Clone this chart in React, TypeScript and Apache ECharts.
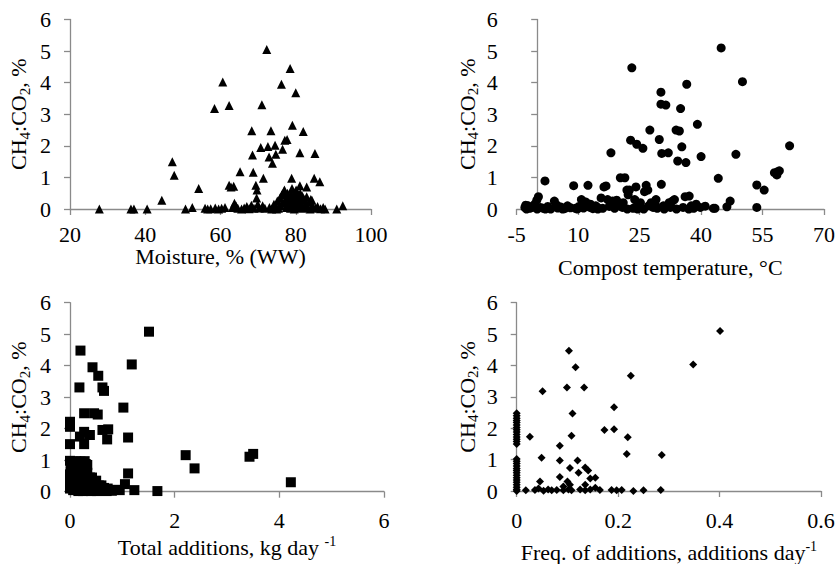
import React, { useEffect, useRef } from "react";
import * as echarts from "echarts";

// Panel 1: Moisture, % (WW) vs CH4:CO2, %
const moisture: [number, number][] = [
  [27.8, 0], [36.2, 0], [37.0, 0], [40.5, 0], [44.4, 0.28], [47.2, 1.5], [47.7, 1.07], [50.7, 0], [52.5, 0.05], [54.2, 0.65],
  [55.9, 0.02], [56.6, 0], [57.4, 0.01], [58.4, 3.18], [58.6, 0.03], [59.5, 0], [60.3, 0.02], [60.6, 4.02], [61.2, 0.05],
  [62.3, 0.75], [62.8, 0.7], [63.5, 0.72], [63.7, 0.18], [63.2, 0.05], [62.3, 3.28], [64.1, 0.1], [64.6, 0.02], [65.2, 1.18],
  [65.6, 0], [66.3, 0.03], [67.0, 0.08], [67.6, 0.01], [68.3, 2.48], [68.5, 1.71], [68.7, 1.16], [68.2, 0.12], [68.9, 0.02],
  [69.4, 0.75], [69.7, 0.6], [69.6, 0.35], [69.9, 0.15], [70.3, 0.03], [70.7, 1.95], [71.0, 3.3], [71.4, 0.97], [71.2, 0.1],
  [71.8, 0.02], [72.3, 5.05], [72.6, 1.98], [72.9, 1.65], [73.4, 2.48], [73.8, 1.45], [73.0, 0.05], [73.6, 0], [74.5, 2.02],
  [74.7, 1.73], [74.2, 0.15], [74.6, 0.05], [75.1, 0.25], [75.4, 0.02], [75.8, 0.35], [76.2, 3.95], [76.5, 1.89], [76.0, 0.1],
  [76.3, 0.45], [76.8, 0.55], [77.1, 2.18], [77.7, 2.2], [77.0, 0.6], [77.3, 0.3], [77.5, 0.05], [77.9, 0.15], [78.5, 4.45],
  [78.2, 0.4], [78.4, 0.22], [78.6, 0.02], [78.9, 0.97], [79.0, 0.65], [79.1, 2.65], [79.3, 0.35], [79.4, 0.1], [79.7, 0.5],
  [79.9, 0.25], [80.0, 3.68], [80.2, 0.05], [80.4, 0.4], [80.6, 0.15], [80.8, 0.3], [81.1, 1.78], [81.1, 0.74], [81.2, 0.5],
  [81.4, 0.2], [81.6, 0.02], [82.0, 2.45], [82.2, 0.3], [82.5, 0.1], [82.9, 0.7], [82.9, 0.39], [83.1, 0.05], [83.5, 0.22],
  [84.0, 0.3], [84.3, 0.28], [84.5, 0.1], [84.9, 0.97], [85.1, 1.76], [85.3, 0.02], [85.8, 0.08], [86.4, 0.86], [86.6, 0.01],
  [87.3, 0.05], [87.8, 0], [90.9, 0], [92.5, 0.1], [74.9, 0.0], [75.6, 0.1], [76.6, 0.2], [77.8, 0.5], [78.0, 0.3],
  [78.8, 0.45], [79.6, 0.0], [80.1, 0.6], [81.8, 0.4], [83.8, 0.0], [80.9, 0.05], [79.2, 0.2], [77.6, 0.12],
];

// Panel 2: Compost temperature, °C vs CH4:CO2, %
const temperature: [number, number][] = [
  [-3.0, 0.05], [-2.6, 0], [-2.2, 0.1], [-1.8, 0.02], [-1.2, 0.05], [-0.6, 0.15], [-0.1, 0.28], [0.3, 0.39], [0.8, 0.05],
  [1.5, 0.02], [1.9, 0.89], [2.6, 0.08], [3.3, 0], [4.2, 0.25], [5.0, 0.03], [5.8, 0.06], [6.7, 0.01], [7.4, 0.1], [8.1, 0.04],
  [8.9, 0.74], [9.3, 0.02], [10.2, 0.08], [10.8, 0.3], [11.3, 0.03], [11.9, 0.22], [12.4, 0.75], [12.9, 0.05], [13.6, 0.01],
  [14.3, 0.1], [15.0, 0.03], [15.6, 0.35], [16.3, 0.7], [16.8, 0.73], [17.2, 0.3], [17.6, 0.08], [18.0, 1.78], [18.4, 0.25],
  [18.9, 0.02], [19.4, 0.28], [20.0, 0.1], [20.3, 0.99], [20.8, 0.05], [21.4, 0.99], [21.9, 0.6], [22.2, 0.45], [22.5, 0.6],
  [22.8, 2.18], [23.1, 4.47], [23.4, 0.02], [23.8, 0.3], [24.1, 0.7], [24.3, 2.05], [24.7, 0.1], [25.2, 0.2], [25.8, 1.92],
  [26.2, 0.55], [26.6, 0.75], [27.0, 0.6], [27.5, 2.5], [27.8, 0.2], [28.3, 0.05], [28.8, 0.15], [29.3, 0.02], [29.8, 2.2],
  [30.2, 3.7], [30.2, 3.32], [30.3, 0.78], [30.4, 1.76], [30.8, 0.1], [31.4, 3.29], [32.0, 1.78], [32.5, 0.05], [33.0, 0.25],
  [33.5, 0.3], [33.9, 2.5], [34.3, 1.52], [34.7, 2.47], [35.0, 3.18], [35.3, 1.97], [35.6, 0.05], [36.1, 0.39], [36.3, 1.47],
  [36.5, 3.95], [37.1, 0.41], [37.6, 0.1], [38.2, 0.02], [39.1, 2.68], [39.8, 0.05], [40.0, 1.66], [41.0, 0.09], [43.0, 0.02],
  [43.4, 0.02], [44.2, 0.97], [44.9, 5.1], [46.3, 0.07], [47.1, 0.25], [48.5, 1.73], [50.1, 4.03], [53.6, 0.76], [53.6, 0.05],
  [55.4, 0.6], [57.9, 1.15], [58.5, 1.08], [58.7, 1.18], [59.1, 1.21], [61.6, 2.0], [-2.8, 0.12], [0.0, 0.0], [2.0, 0.0],
  [4.8, 0.12], [6.2, 0.0], [9.8, 0.0], [13.0, 0.15], [14.8, 0.0], [16.0, 0.02], [19.0, 0.1], [21.0, 0.2], [22.0, 0.0],
  [24.5, 0.0], [26.0, 0.0], [27.2, 0.1], [29.0, 0.3], [31.0, 0.0], [32.2, 0.2], [34.0, 0.0], [37.0, 0.0], [38.8, 0.15],
];

// Panel 3: Total additions, kg day-1 vs CH4:CO2, %
const additions: [number, number][] = [
  [0.2, 4.48], [0.18, 3.31], [0, 2.22], [0, 2.06], [0, 1.51], [0.27, 2.49], [0.27, 1.51], [0.19, 1.75], [0.27, 1.9],
  [0.38, 1.8], [0.43, 3.95], [0.46, 2.49], [0.53, 2.45], [0.54, 3.68], [0.62, 3.31], [0.65, 3.2], [0.62, 1.96], [0.73, 1.98],
  [0.71, 1.66], [1.02, 2.67], [1.11, 1.72], [1.11, 0.58], [1.05, 0.24], [1.18, 4.04], [1.23, 0.05], [1.51, 5.08], [1.67, 0.02],
  [2.21, 1.16], [2.38, 0.74], [3.43, 1.11], [3.5, 1.2], [4.22, 0.3], [0.89, 0.06], [0.8, 0.03], [0.95, 0.05],
  [0, 0.98], [0.05, 0.95], [0.12, 0.97], [0.2, 0.96], [0.28, 0.97], [0.02, 0.75], [0.1, 0.8], [0.17, 0.7], [0.25, 0.78],
  [0.3, 0.72], [0, 0.55], [0.08, 0.5], [0.15, 0.6], [0.22, 0.45], [0.3, 0.5], [0.04, 0.3], [0.12, 0.35], [0.19, 0.25],
  [0.27, 0.3], [0.34, 0.4], [0, 0.1], [0.06, 0.05], [0.1, 0.15], [0.16, 0.02], [0.23, 0.1], [0.3, 0.05], [0.38, 0.2],
  [0.42, 0.45], [0.45, 0.1], [0.5, 0.35], [0.52, 0.02], [0.55, 0.2], [0.6, 0.08], [0.65, 0.12], [0.7, 0.02], [0.75, 0.05],
  [0, 0.3], [0.08, 0.25], [0.36, 0.05], [0.44, 0.28], [0.58, 0.15],
  [0.04, 0.88], [0.14, 0.86], [0.22, 0.9], [0.3, 0.88], [0.06, 0.65], [0.13, 0.68], [0.21, 0.62], [0.29, 0.62],
  [0.03, 0.42], [0.11, 0.45], [0.18, 0.4], [0.26, 0.42], [0.02, 0.18], [0.09, 0.22], [0.14, 0.12], [0.21, 0.2],
  [0.28, 0.15], [0.33, 0.28], [0.4, 0.35], [0.47, 0.2], [0.62, 0.03], [0.4, 0.02], [0.49, 0.08], [0.68, 0.08],
  [0.01, 0.65], [0.07, 0.35], [0.16, 0.5], [0.24, 0.55], [0.33, 0.6], [0.35, 0.15], [0.12, 0.55], [0.18, 0.85],
  [0.26, 0.68], [0.09, 0.1], [0.19, 0.08], [0.25, 0.02], [0.32, 0.38], [0.38, 0.45], [0.43, 0.15], [0.48, 0.3],
  [0.54, 0.1], [0.6, 0.2], [0.66, 0.04], [0.72, 0.1], [0.07, 0.78], [0.24, 0.3], [0.16, 0.32], [0.33, 0.85],
];

// Panel 4: Freq. of additions, additions day-1 vs CH4:CO2, %
const frequency: [number, number][] = [
  [0, 2.48], [0, 2.4], [0, 2.32], [0, 2.25], [0, 2.18], [0, 2.1], [0, 2.02], [0, 1.95], [0, 1.88], [0, 1.8], [0, 1.72],
  [0, 1.65], [0, 1.58], [0, 1.5], [0, 1.02], [0, 0.95], [0, 0.88], [0, 0.8], [0, 0.72], [0, 0.65], [0, 0.58], [0, 0.5],
  [0, 0.42], [0, 0.35], [0, 0.28], [0, 0.2], [0, 0.12], [0, 0.05], [0, 0],
  [0.018, 0.02], [0.026, 1.73], [0.036, 0.03], [0.043, 0.08], [0.046, 0.3], [0.049, 1.06], [0.051, 3.18], [0.053, 0.01],
  [0.062, 0.05], [0.069, 0.02], [0.079, 0.03], [0.085, 1.44], [0.085, 0.97], [0.085, 0.45], [0.092, 0.14], [0.092, 0.02],
  [0.099, 3.3], [0.1, 0.3], [0.102, 0.05], [0.103, 4.47], [0.105, 0.73], [0.105, 0.2], [0.108, 1.76], [0.108, 0.02],
  [0.11, 2.47], [0.116, 3.94], [0.12, 0.97], [0.122, 0.58], [0.125, 0.05], [0.133, 3.3], [0.135, 0.75], [0.135, 0.2],
  [0.135, 0.02], [0.141, 0.65], [0.145, 0.4], [0.145, 0.05], [0.155, 0.42], [0.155, 0.1], [0.164, 0.03], [0.173, 1.94],
  [0.187, 0.03], [0.192, 1.97], [0.192, 2.67], [0.197, 0.02], [0.207, 0.03], [0.217, 1.18], [0.219, 1.71], [0.225, 3.67],
  [0.23, 0], [0.25, 0.02], [0.286, 1.15], [0.284, 0.03], [0.348, 4.03], [0.401, 5.1],
];

const yName = "CH{s|4}:CO{s|2}, %";
const xNames = ["Moisture, % (WW)", "Compost temperature, °C", "Total additions, kg day {p|-1}", "Freq. of additions, additions day{p|-1}"];
const xRanges = [
  { min: 20, max: 100, interval: 20 },
  { min: -5, max: 70, interval: 15 },
  { min: 0, max: 6, interval: 2 },
  { min: 0, max: 0.6, interval: 0.2 },
];

export default function App() {
  const ref = useRef<HTMLDivElement>(null);
  useEffect(() => {
    const chart = echarts.init(ref.current!, null, { renderer: "svg" });
    const font = "Liberation Serif";
    const axisColor = "#8a8a8a";
    const fs = 22;
    const grids = [
      { left: 70, top: 19.5, width: 301, height: 189.5 },
      { left: 516.7, top: 19.5, width: 307.3, height: 189.5 },
      { left: 70, top: 302.7, width: 314, height: 189 },
      { left: 516.7, top: 302.7, width: 304.3, height: 188.3 },
    ];
    const xGaps = [32, 47, 43, 48];
    const xMargins = [14, 14, 18, 18];
    const yGaps = [38, 36, 38, 36];
    const datasets = [moisture, temperature, additions, frequency];
    const symbols = ["triangle", "circle", "rect", "diamond"];
    const sizes = [9, 9, 10, 8];
    const axisCommon = {
      axisLine: { show: true, lineStyle: { color: axisColor, width: 1.3 } },
      axisTick: { show: true, inside: false, length: 6, lineStyle: { color: axisColor, width: 1.3 } },
      splitLine: { show: false },
    };
    const option: any = {
      animation: false,
      backgroundColor: "#fff",
      textStyle: { fontFamily: font, color: "#000" },
      grid: grids.map((g) => ({ ...g, containLabel: false })),
      xAxis: xRanges.map((r, i) => ({
        type: "value",
        gridIndex: i,
        ...r,
        ...axisCommon,
        axisLabel: { color: "#000", fontFamily: font, fontSize: fs, margin: xMargins[i], showMinLabel: true, showMaxLabel: true },
        name: xNames[i],
        nameLocation: "middle",
        nameGap: xGaps[i],
        nameTextStyle: {
          color: "#000",
          fontFamily: font,
          fontSize: fs,
          rich: { p: { fontFamily: font, fontSize: 14, color: "#000", padding: [0, 0, 12, 0] } },
        },
      })),
      yAxis: grids.map((_, i) => ({
        type: "value",
        gridIndex: i,
        min: 0,
        max: 6,
        interval: 1,
        ...axisCommon,
        axisLabel: { color: "#000", fontFamily: font, fontSize: fs, margin: 19, showMinLabel: true, showMaxLabel: true },
        name: yName,
        nameLocation: "middle",
        nameRotate: 90,
        nameGap: yGaps[i],
        nameTextStyle: {
          color: "#000",
          fontFamily: font,
          fontSize: fs,
          rich: { s: { fontFamily: font, fontSize: 15, color: "#000", padding: [12, 0, 0, 0] } },
        },
      })),
      series: datasets.map((d, i) => ({
        type: "scatter",
        xAxisIndex: i,
        yAxisIndex: i,
        data: d,
        symbol: symbols[i],
        symbolSize: sizes[i],
        itemStyle: { color: "#000", opacity: 1 },
      })),
    };
    chart.setOption(option);
    return () => chart.dispose();
  }, []);
  return <div ref={ref} style={{ position: "absolute", left: 0, top: 0, width: 838, height: 564 }} />;
}
